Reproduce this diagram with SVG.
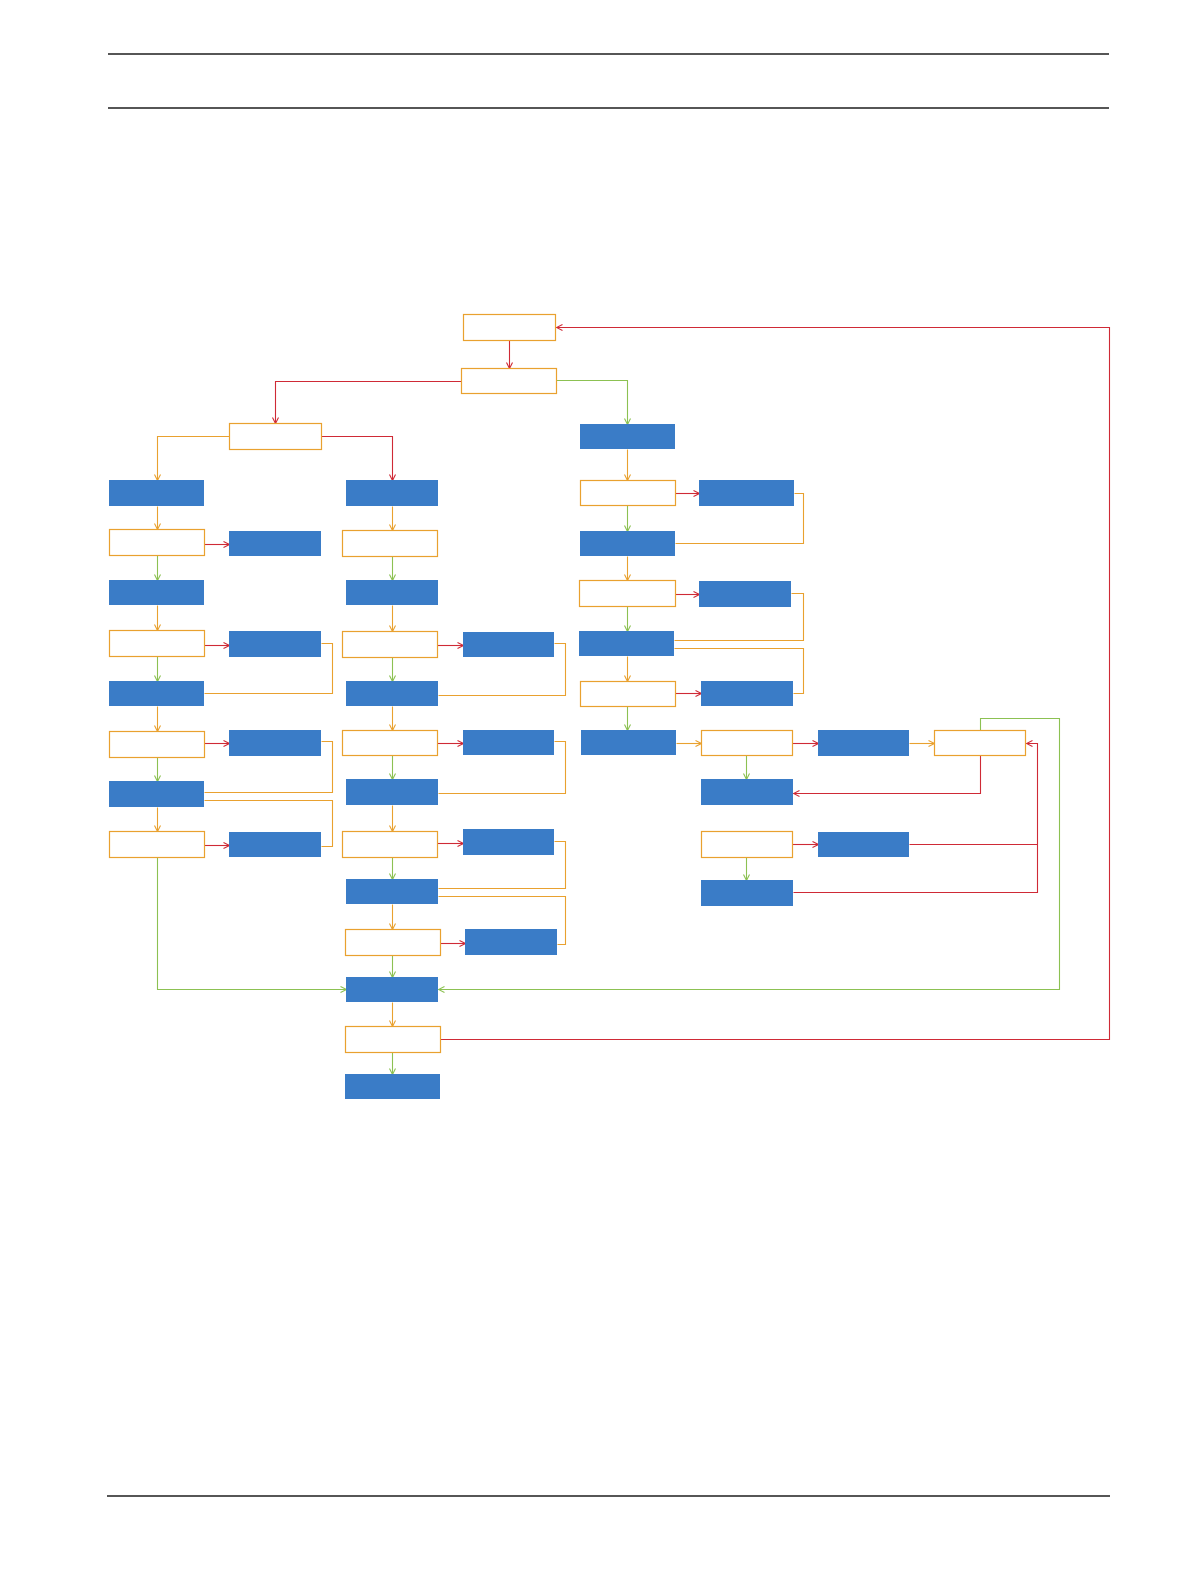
<svg xmlns="http://www.w3.org/2000/svg" width="1191" height="1587" viewBox="0 0 1191 1587">
<style>
.o{fill:#fff;stroke:#E9A12F;stroke-width:1.2}
.b{fill:#3A7CC7}
.hl{stroke:#1E1E1E;stroke-width:1.4;fill:none}
.r{stroke:#CF2A36;stroke-width:1.1;fill:none}
.g{stroke:#8CC152;stroke-width:1.1;fill:none}
.y{stroke:#E9A12F;stroke-width:1.1;fill:none}
.r.a{marker-end:url(#mr)}
.g.a{marker-end:url(#mg)}
.y.a{marker-end:url(#my)}
</style>
<defs>
<marker id="mr" viewBox="0 0 8 8" refX="7" refY="4" markerWidth="8" markerHeight="8" markerUnits="userSpaceOnUse" orient="auto"><path d="M1,1 L7,4 L1,7" fill="none" stroke="#CF2A36" stroke-width="1.1"/></marker>
<marker id="mg" viewBox="0 0 8 8" refX="7" refY="4" markerWidth="8" markerHeight="8" markerUnits="userSpaceOnUse" orient="auto"><path d="M1,1 L7,4 L1,7" fill="none" stroke="#8CC152" stroke-width="1.1"/></marker>
<marker id="my" viewBox="0 0 8 8" refX="7" refY="4" markerWidth="8" markerHeight="8" markerUnits="userSpaceOnUse" orient="auto"><path d="M1,1 L7,4 L1,7" fill="none" stroke="#E9A12F" stroke-width="1.1"/></marker>
</defs>
<rect width="1191" height="1587" fill="#fff"/>
<g id="page-lines">
<line class="hl" x1="108" y1="54" x2="1109" y2="54"/>
<line class="hl" x1="108" y1="108" x2="1109" y2="108"/>
<line class="hl" x1="107" y1="1496" x2="1110" y2="1496"/>
</g>
<g id="connectors" transform="translate(0.5,0.5)">
<path class="r a" d="M509,340 V368"/>
<path class="r a" d="M461,381 H275 V423"/>
<path class="r a" d="M321,436 H392 V480"/>
<path class="r a" d="M204,544 H229"/>
<path class="r a" d="M204,645 H229"/>
<path class="r a" d="M204,743 H229"/>
<path class="r a" d="M204,845 H229"/>
<path class="r a" d="M437,645 H463"/>
<path class="r a" d="M437,743 H463"/>
<path class="r a" d="M437,843 H463"/>
<path class="r a" d="M440,943 H465"/>
<path class="r a" d="M675,493 H699"/>
<path class="r a" d="M675,594 H699"/>
<path class="r a" d="M675,693 H701"/>
<path class="r a" d="M792,743 H818"/>
<path class="r a" d="M980,755 V793 H793"/>
<path class="r a" d="M792,844 H818"/>
<path class="r" d="M909,844 H1037"/>
<path class="r a" d="M793,892 H1037 V743 H1026"/>
<path class="r a" d="M440,1039 H1109 V327 H556"/>
<path class="g a" d="M556,380 H627 V424"/>
<path class="g a" d="M157,555 V580"/>
<path class="g a" d="M157,656 V681"/>
<path class="g a" d="M157,757 V781"/>
<path class="g a" d="M157,857 V989 H346"/>
<path class="g a" d="M392,556 V580"/>
<path class="g a" d="M392,657 V681"/>
<path class="g a" d="M392,755 V779"/>
<path class="g a" d="M392,857 V879"/>
<path class="g a" d="M392,955 V977"/>
<path class="g a" d="M392,1052 V1074"/>
<path class="g a" d="M627,505 V531"/>
<path class="g a" d="M627,606 V631"/>
<path class="g a" d="M627,706 V730"/>
<path class="g a" d="M746,755 V779"/>
<path class="g a" d="M746,857 V880"/>
<path class="g a" d="M980,730 V718 H1059 V989 H438"/>
<path class="y a" d="M229,436 H157 V480"/>
<path class="y a" d="M157,506 V529"/>
<path class="y a" d="M157,605 V630"/>
<path class="y a" d="M157,706 V731"/>
<path class="y a" d="M157,807 V831"/>
<path class="y" d="M321,643 H332 V693 H204"/>
<path class="y" d="M321,741 H332 V792 H204"/>
<path class="y" d="M204,800 H332 V846 H321"/>
<path class="y a" d="M392,506 V530"/>
<path class="y a" d="M392,605 V631"/>
<path class="y a" d="M392,706 V730"/>
<path class="y a" d="M392,805 V831"/>
<path class="y a" d="M392,904 V929"/>
<path class="y a" d="M392,1002 V1026"/>
<path class="y" d="M554,643 H565 V695 H438"/>
<path class="y" d="M554,741 H565 V793 H438"/>
<path class="y" d="M554,841 H565 V888 H438"/>
<path class="y" d="M438,896 H565 V944 H557"/>
<path class="y a" d="M627,449 V480"/>
<path class="y a" d="M627,556 V580"/>
<path class="y a" d="M627,656 V681"/>
<path class="y" d="M794,493 H803 V543 H675"/>
<path class="y" d="M791,593 H803 V640 H674"/>
<path class="y" d="M674,648 H803 V693 H793"/>
<path class="y a" d="M676,743 H701"/>
<path class="y a" d="M909,743 H934"/>
</g>
<g id="nodes-orange" transform="translate(0.5,0.5)">
<g id="T0"><rect class="o" x="463" y="314" width="92" height="26"/></g>
<g id="T1"><rect class="o" x="461" y="368" width="95" height="25"/></g>
<g id="L1"><rect class="o" x="229" y="423" width="92" height="26"/></g>
<g id="A2"><rect class="o" x="109" y="529" width="95" height="26"/></g>
<g id="A4"><rect class="o" x="109" y="630" width="95" height="26"/></g>
<g id="A6"><rect class="o" x="109" y="731" width="95" height="26"/></g>
<g id="A8"><rect class="o" x="109" y="831" width="95" height="26"/></g>
<g id="M2"><rect class="o" x="342" y="530" width="95" height="26"/></g>
<g id="M4"><rect class="o" x="342" y="631" width="95" height="26"/></g>
<g id="M6"><rect class="o" x="342" y="730" width="95" height="25"/></g>
<g id="M8"><rect class="o" x="342" y="831" width="95" height="26"/></g>
<g id="M10"><rect class="o" x="345" y="929" width="95" height="26"/></g>
<g id="C"><rect class="o" x="345" y="1026" width="95" height="26"/></g>
<g id="R2"><rect class="o" x="580" y="480" width="95" height="25"/></g>
<g id="R4"><rect class="o" x="579" y="580" width="96" height="26"/></g>
<g id="R6"><rect class="o" x="580" y="681" width="95" height="25"/></g>
<g id="P1"><rect class="o" x="701" y="730" width="91" height="25"/></g>
<g id="P3"><rect class="o" x="934" y="730" width="91" height="25"/></g>
<g id="Q2"><rect class="o" x="701" y="831" width="91" height="26"/></g>
</g>
<g id="nodes-blue">
<g id="A1"><rect class="b" x="109" y="480" width="95" height="26"/></g>
<g id="A2r"><rect class="b" x="229" y="531" width="92" height="25"/></g>
<g id="A3"><rect class="b" x="109" y="580" width="95" height="25"/></g>
<g id="A4r"><rect class="b" x="229" y="631" width="92" height="26"/></g>
<g id="A5"><rect class="b" x="109" y="681" width="95" height="25"/></g>
<g id="A6r"><rect class="b" x="229" y="730" width="92" height="26"/></g>
<g id="A7"><rect class="b" x="109" y="781" width="95" height="26"/></g>
<g id="A8r"><rect class="b" x="229" y="832" width="92" height="25"/></g>
<g id="M1"><rect class="b" x="346" y="480" width="92" height="26"/></g>
<g id="M3"><rect class="b" x="346" y="580" width="92" height="25"/></g>
<g id="M4r"><rect class="b" x="463" y="632" width="91" height="25"/></g>
<g id="M5"><rect class="b" x="346" y="681" width="92" height="25"/></g>
<g id="M6r"><rect class="b" x="463" y="730" width="91" height="25"/></g>
<g id="M7"><rect class="b" x="346" y="779" width="92" height="26"/></g>
<g id="M8r"><rect class="b" x="463" y="829" width="91" height="26"/></g>
<g id="M9"><rect class="b" x="346" y="879" width="92" height="25"/></g>
<g id="M10r"><rect class="b" x="465" y="929" width="92" height="26"/></g>
<g id="B"><rect class="b" x="346" y="977" width="92" height="25"/></g>
<g id="D"><rect class="b" x="345" y="1074" width="95" height="25"/></g>
<g id="R1"><rect class="b" x="580" y="424" width="95" height="25"/></g>
<g id="R2r"><rect class="b" x="699" y="480" width="95" height="26"/></g>
<g id="R3"><rect class="b" x="580" y="531" width="95" height="25"/></g>
<g id="R4r"><rect class="b" x="699" y="581" width="92" height="26"/></g>
<g id="R5"><rect class="b" x="579" y="631" width="95" height="25"/></g>
<g id="R6r"><rect class="b" x="701" y="681" width="92" height="25"/></g>
<g id="R7"><rect class="b" x="581" y="730" width="95" height="25"/></g>
<g id="P2"><rect class="b" x="818" y="730" width="91" height="26"/></g>
<g id="Q1"><rect class="b" x="701" y="779" width="92" height="26"/></g>
<g id="Q2r"><rect class="b" x="818" y="832" width="91" height="25"/></g>
<g id="Q3"><rect class="b" x="701" y="880" width="92" height="26"/></g>
</g>
</svg>
